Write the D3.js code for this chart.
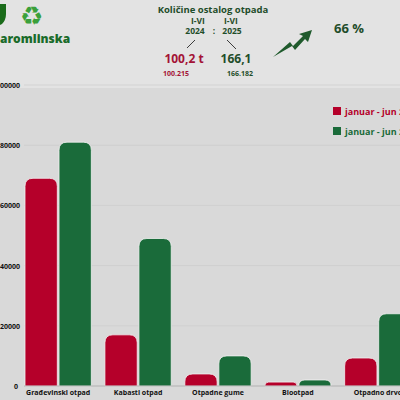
<!DOCTYPE html><html><head><script src="https://cdn.jsdelivr.net/npm/d3@7"></script>
<style>body{margin:0;background:#d9d9d9}svg{display:block;font-family:"Open Sans",sans-serif}</style></head><body>
<script>
const categories=["Građevinski otpad","Kabasti otpad","Otpadne gume","Biootpad","Otpadno drvo"];
const v2024=[69000,17000,4000,1300,9300];
const v2025=[81000,49000,10000,2000,24000];
const yTicks=[0,20000,40000,60000,80000,100000];
const seriesNames=["januar - jun 2024","januar - jun 2025"];
const colors=["#b5002a","#1a6b3a"];
const W=400,H=400;
const svg=d3.select("body").append("svg").attr("width",W).attr("height",H);
svg.append("rect").attr("width",W).attr("height",H).attr("fill","#d9d9d9");
svg.append("rect").attr("width",W).attr("height",88).attr("fill","#e3e3e3");
const y=d3.scaleLinear().domain([0,100000]).range([386,85]);
const x0=d3.scaleBand().domain(categories).range([25,411]).paddingInner(0.17).paddingOuter(0);
const x1=d3.scaleBand().domain([0,1]).range([0,x0.bandwidth()]).paddingInner(0.05);
const g=svg.append("g");
g.selectAll(".grid").data(yTicks.slice(1)).enter().append("line").attr("x1",24).attr("x2",W).attr("y1",d=>y(d)).attr("y2",d=>y(d)).attr("stroke","#cacaca").attr("stroke-width",0.6);
g.selectAll(".yt").data(yTicks).enter().append("text").attr("x",d=>d===0?18:20).attr("y",d=>y(d)+3).attr("text-anchor","end").attr("font-size",7).attr("font-weight",700).attr("fill","#111").text(d=>d);
const vals=[v2024,v2025];
function bar(xp,w,top,bot,r){r=Math.min(r,(bot-top));return `M${xp},${bot}V${top+r}Q${xp},${top} ${xp+r},${top}H${xp+w-r}Q${xp+w},${top} ${xp+w},${top+r}V${bot}Z`;}
categories.forEach((c,i)=>{
 [0,1].forEach(s=>{
  const xp=x0(c)+x1(s),w=x1.bandwidth();
  g.append("path").attr("d",bar(xp,w,y(vals[s][i]),y(0),8)).attr("fill",colors[s]).attr("stroke","#f3f3f3").attr("stroke-width",0.8);
 });
 g.append("text").attr("x",x0(c)+x0.bandwidth()/2).attr("y",395).attr("text-anchor","middle").attr("font-size",7).attr("font-weight",700).attr("fill","#111").text(c);
});
g.append("line").attr("x1",24).attr("x2",W).attr("y1",y(0)).attr("y2",y(0)).attr("stroke","#999").attr("stroke-width",0.6);
seriesNames.forEach((n,i)=>{
 svg.append("rect").attr("x",333).attr("y",107+i*20).attr("width",8).attr("height",8).attr("fill",colors[i]);
 svg.append("text").attr("x",345).attr("y",115+i*20).attr("font-size",9).attr("font-weight",700).attr("fill",colors[i]).text(n);
});
svg.append("path").attr("d","M-2,4H6V14Q6,20 2,24L-2,26Z").attr("fill","#1a6b1a");
svg.append("text").attr("x",31).attr("y",25).attr("text-anchor","middle").attr("font-size",26).attr("fill","#3aa03a").text("♻");
svg.append("text").attr("x",0).attr("y",43).attr("font-size",12).attr("font-weight",800).attr("fill","#1a6b2a").text("aromlinska");
const hdr=[["Količine ostalog otpada",213,13,9.5,"#1f4d2a"],["I-VI",198,24,8.5,"#1f4d2a"],["I-VI",231,24,8.5,"#1f4d2a"],["2024",195,34,8.5,"#1f4d2a"],["2025",232,34,8.5,"#1f4d2a"],[":",214,34,8.5,"#1f4d2a"],["100,2 t",184,63,12,"#a31336"],["166,1",236,63,12,"#1f4d2a"],["100.215",176,76,7,"#a31336"],["166.182",240,76,7,"#1f4d2a"],["66 %",349,33,13,"#1f4d2a"]];
hdr.forEach(h=>svg.append("text").attr("x",h[1]).attr("y",h[2]).attr("text-anchor","middle").attr("font-size",h[3]).attr("font-weight",700).attr("fill",h[4]).text(h[0]));
svg.append("line").attr("x1",195).attr("y1",40).attr("x2",187).attr("y2",48).attr("stroke","#111").attr("stroke-width",0.8);
svg.append("line").attr("x1",227).attr("y1",40).attr("x2",236).attr("y2",49).attr("stroke","#111").attr("stroke-width",0.8);
svg.append("path").attr("d","M273,57L290,42L293,46L303,36L299,34L312,30L308,42L305,39L295,50L292,46Z").attr("fill","#1f5a2c");
</script></body></html>
